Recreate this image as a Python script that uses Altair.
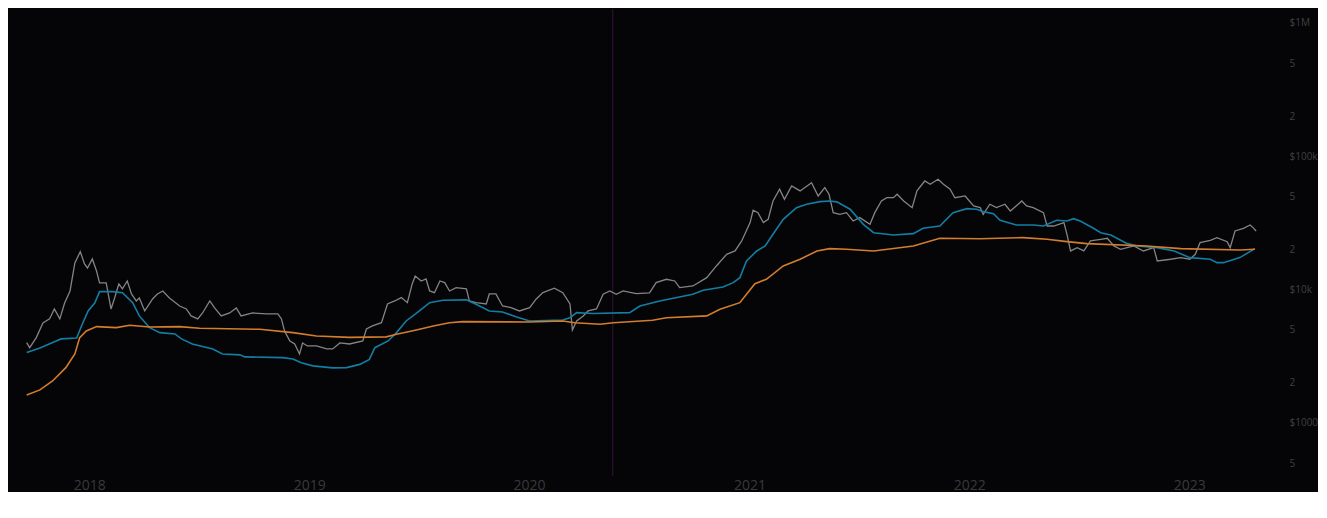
import altair as alt
import pandas as pd

# ---- data (log-scale USD) ----
price_dates = [
    "2017-09-19", "2017-09-24", "2017-10-05", "2017-10-16", "2017-10-27", "2017-11-04", "2017-11-13",
    "2017-11-21", "2017-11-30", "2017-12-08", "2017-12-17", "2017-12-24", "2017-12-29", "2018-01-06",
    "2018-01-13", "2018-01-18", "2018-01-29", "2018-02-06", "2018-02-12", "2018-02-19", "2018-02-25",
    "2018-03-05", "2018-03-12", "2018-03-20", "2018-03-25", "2018-04-03", "2018-04-16", "2018-04-24",
    "2018-05-03", "2018-05-14", "2018-05-31", "2018-06-11", "2018-06-19", "2018-06-30", "2018-07-08",
    "2018-07-20", "2018-07-28", "2018-08-08", "2018-08-22", "2018-09-02", "2018-09-10", "2018-09-29",
    "2018-10-22", "2018-11-10", "2018-11-16", "2018-11-21", "2018-11-30", "2018-12-08", "2018-12-16",
    "2018-12-21", "2018-12-29", "2019-01-13", "2019-01-30", "2019-02-09", "2019-02-21", "2019-03-09",
    "2019-03-31", "2019-04-06", "2019-04-16", "2019-05-01", "2019-05-11", "2019-05-23", "2019-06-03",
    "2019-06-13", "2019-06-21", "2019-06-26", "2019-07-06", "2019-07-14", "2019-07-20", "2019-07-28",
    "2019-08-06", "2019-08-14", "2019-08-22", "2019-09-02", "2019-09-19", "2019-09-24", "2019-10-05",
    "2019-10-22", "2019-10-27", "2019-11-07", "2019-11-18", "2019-12-02", "2019-12-16", "2020-01-02",
    "2020-01-13", "2020-01-24", "2020-02-12", "2020-02-26", "2020-03-09", "2020-03-13", "2020-03-20",
    "2020-03-31", "2020-04-08", "2020-04-22", "2020-05-03", "2020-05-14", "2020-05-25", "2020-06-05",
    "2020-06-27", "2020-07-19", "2020-07-30", "2020-08-16", "2020-08-30", "2020-09-07", "2020-09-29",
    "2020-10-22", "2020-11-07", "2020-11-24", "2020-12-08", "2020-12-19", "2021-01-02", "2021-01-07",
    "2021-01-15", "2021-01-24", "2021-02-01", "2021-02-09", "2021-02-20", "2021-02-28", "2021-03-12",
    "2021-03-26", "2021-04-14", "2021-04-25", "2021-05-06", "2021-05-13", "2021-05-20", "2021-05-31",
    "2021-06-11", "2021-06-22", "2021-07-03", "2021-07-20", "2021-07-28", "2021-08-08", "2021-08-17",
    "2021-08-28", "2021-09-03", "2021-09-14", "2021-09-28", "2021-10-06", "2021-10-19", "2021-10-28",
    "2021-11-10", "2021-11-19", "2021-11-30", "2021-12-08", "2021-12-25", "2022-01-08", "2022-01-19",
    "2022-01-24", "2022-02-04", "2022-02-15", "2022-03-01", "2022-03-10", "2022-03-29", "2022-04-06",
    "2022-04-17", "2022-05-04", "2022-05-10", "2022-05-21", "2022-06-07", "2022-06-12", "2022-06-18",
    "2022-06-29", "2022-07-10", "2022-07-21", "2022-08-07", "2022-08-18", "2022-08-29", "2022-09-09",
    "2022-09-20", "2022-10-01", "2022-10-17", "2022-11-03", "2022-11-09", "2022-12-01", "2022-12-18",
    "2023-01-02", "2023-01-11", "2023-01-19", "2023-02-05", "2023-02-16", "2023-03-05", "2023-03-10",
    "2023-03-18", "2023-04-01", "2023-04-12", "2023-04-17", "2023-04-22",
]
price_values = [
    4000, 3670, 4365, 5620, 6030, 7160, 6030,
    7940, 9770, 15850, 19270, 15580, 14540, 16980,
    13800, 11220, 11220, 7160, 8660, 11030, 10120,
    11610, 9280, 8220, 8660, 6920, 8510, 9280,
    9770, 8660, 7540, 7160, 6350, 6030, 6680,
    8220, 7290, 6350, 6680, 7290, 6350, 6680,
    6570, 6570, 6030, 4900, 4120, 3910, 3290,
    3980, 3780, 3780, 3590, 3590, 3980, 3910,
    4120, 5070, 5340, 5650, 7810, 8220, 8710,
    7980, 11030, 12660, 11610, 12020, 9770, 9490,
    11610, 11280, 9770, 10350, 10120, 8220, 7980,
    7810, 9280, 9280, 7540, 7330, 6920, 7330,
    8510, 9490, 10240, 9490, 7810, 4980, 5820,
    6350, 6920, 7160, 9230, 9770, 9230, 9770,
    9330, 9440, 11280, 11960, 11610, 10350, 10650,
    12300, 15050, 18410, 19500, 23170, 31800, 39400,
    37800, 31800, 33700, 46200, 56600, 47600, 59900,
    55000, 63400, 50400, 58200, 51900, 37800, 36700,
    37800, 32700, 34700, 30900, 37800, 46200, 48900,
    48900, 51900, 46200, 41200, 55000, 65300, 61700,
    67200, 61700, 56600, 48900, 50400, 42400, 41200,
    36700, 43700, 41200, 43700, 38900, 46200, 42400,
    41200, 37800, 30000, 30000, 31800, 26000, 19500,
    20650, 19500, 23170, 23860, 24280, 21260, 20080,
    20650, 21260, 19500, 20650, 16410, 16900, 17380,
    16900, 18410, 22500, 23450, 24540, 22900, 20650,
    27540, 28840, 30550, 29170, 27540,
]

ma_dates = [
    "2017-09-19", "2017-10-11", "2017-11-07", "2017-11-15", "2017-12-11", "2017-12-19", "2017-12-30",
    "2018-01-10", "2018-01-18", "2018-02-09", "2018-02-25", "2018-03-14", "2018-03-25", "2018-04-11",
    "2018-04-28", "2018-05-23", "2018-06-03", "2018-06-21", "2018-07-25", "2018-08-10", "2018-09-08",
    "2018-09-16", "2018-11-18", "2018-12-05", "2018-12-19", "2019-01-07", "2019-02-09", "2019-03-04",
    "2019-03-26", "2019-04-11", "2019-04-20", "2019-05-12", "2019-05-26", "2019-06-11", "2019-07-03",
    "2019-07-20", "2019-08-11", "2019-09-19", "2019-10-05", "2019-10-27", "2019-11-18", "2019-12-10",
    "2020-01-02", "2020-02-26", "2020-03-09", "2020-03-20", "2020-04-16", "2020-06-16", "2020-07-03",
    "2020-08-05", "2020-09-29", "2020-10-16", "2020-11-18", "2020-12-05", "2020-12-16", "2020-12-27",
    "2021-01-13", "2021-01-27", "2021-02-09", "2021-02-26", "2021-03-20", "2021-04-06", "2021-04-28",
    "2021-05-14", "2021-05-26", "2021-06-17", "2021-07-09", "2021-07-26", "2021-08-28", "2021-09-30",
    "2021-10-16", "2021-11-13", "2021-12-05", "2021-12-28", "2022-01-13", "2022-01-24", "2022-02-10",
    "2022-02-21", "2022-03-20", "2022-04-17", "2022-05-04", "2022-05-26", "2022-06-12", "2022-06-23",
    "2022-07-04", "2022-07-26", "2022-08-07", "2022-08-24", "2022-09-20", "2022-10-07", "2022-11-09",
    "2022-12-07", "2023-01-02", "2023-02-05", "2023-02-16", "2023-02-27", "2023-03-26", "2023-04-20",
]
ma_values = [
    3370, 3650, 4120, 4270, 4340, 5340, 6920,
    7940, 9660, 9660, 9490, 7980, 6350, 5190,
    4760, 4650, 4270, 3910, 3590, 3290, 3240,
    3130, 3090, 3020, 2830, 2680, 2590, 2600,
    2750, 3000, 3670, 4120, 4760, 5820, 6920,
    7980, 8320, 8380, 7760, 6920, 6800, 6270,
    5820, 5920, 6160, 6720, 6620, 6720, 7540,
    8220, 9230, 9890, 10470, 11280, 12300, 16410,
    19500, 21260, 26000, 33700, 41200, 43700, 45700,
    46200, 45500, 40100, 30900, 26740, 25700, 26300,
    28840, 30000, 37800, 40500, 40100, 38450, 37150,
    33100, 30550, 30550, 30000, 33100, 32700, 34050,
    32700, 28840, 26740, 25700, 22130, 21260, 20650,
    19500, 17380, 16900, 15930, 15930, 17380, 20290,
]

long_dates = [
    "2017-09-19", "2017-10-11", "2017-11-01", "2017-11-23", "2017-12-08", "2017-12-16", "2017-12-27",
    "2018-01-13", "2018-02-15", "2018-03-09", "2018-04-11", "2018-05-31", "2018-07-03", "2018-10-11",
    "2018-12-05", "2019-01-13", "2019-03-09", "2019-05-09", "2019-05-26", "2019-06-28", "2019-07-26",
    "2019-08-22", "2019-09-13", "2020-01-02", "2020-02-26", "2020-03-17", "2020-04-28", "2020-05-20",
    "2020-07-24", "2020-08-16", "2020-10-22", "2020-11-13", "2020-12-16", "2020-12-27", "2021-01-10",
    "2021-01-29", "2021-02-26", "2021-03-26", "2021-04-23", "2021-05-14", "2021-06-11", "2021-07-26",
    "2021-09-30", "2021-11-13", "2022-01-19", "2022-03-31", "2022-05-10", "2022-06-12", "2022-07-15",
    "2022-10-22", "2022-12-18", "2023-03-26", "2023-04-20",
]
long_values = [
    1620, 1770, 2065, 2600, 3290, 4365, 4900,
    5280, 5190, 5400, 5250, 5280, 5130, 5040,
    4760, 4490, 4380, 4420, 4620, 4980, 5340,
    5650, 5750, 5720, 5820, 5650, 5500, 5650,
    5890, 6160, 6350, 7120, 7980, 9230, 11090,
    11960, 15050, 16900, 19500, 20290, 20080, 19500,
    21260, 24280, 24100, 24540, 23860, 22900, 22130,
    21260, 20290, 19840, 20080,
]

marker_date = ["2020-05-19"]

x_domain = ["2017-08-19", "2023-06-09"]
y_domain = [400, 1273000]
year_ticks = [2018, 2019, 2020, 2021, 2022, 2023]
y_tick_values = [500, 1000, 2000, 5000, 10000, 20000, 50000, 100000, 200000, 500000, 1000000]
y_tick_labels = ["5", "$1000", "2", "5", "$10k", "2", "5", "$100k", "2", "5", "$1M"]

# ---- build ----
def to_dt(s):
    t = pd.Timestamp(s)
    return alt.DateTime(year=t.year, month=t.month, date=t.day, utc=True)

label_expr = "''"
for v, lab in zip(y_tick_values, y_tick_labels):
    label_expr = f"datum.value == {v} ? '{lab}' : ({label_expr})"

x_scale = alt.Scale(type="utc", domain=[to_dt(d) for d in x_domain], nice=False)
y_scale = alt.Scale(type="log", domain=y_domain, nice=False)

x_axis = alt.Axis(
    values=[alt.DateTime(year=y, month=1, date=1, utc=True) for y in year_ticks],
    labelExpr="utcFormat(datum.value, '%Y')",
    title=None, domain=False, ticks=False, grid=False,
    labelColor="#393939", labelFontSize=14, labelFont="Open Sans",
    labelPadding=2, labelBaseline="top",
)
y_axis = alt.Axis(
    orient="right", values=y_tick_values, labelExpr=label_expr,
    title=None, domain=False, ticks=False, grid=False,
    labelColor="#404040", labelFontSize=10, labelFont="Open Sans",
    labelPadding=4, labelAlign="left", labelBaseline="middle",
)

price_df = pd.DataFrame({"date": price_dates, "value": price_values})
ma_df = pd.DataFrame({"date": ma_dates, "value": ma_values})
long_df = pd.DataFrame({"date": long_dates, "value": long_values})
marker_df = pd.DataFrame({"date": marker_date})

def line_layer(df, color, width):
    return alt.Chart(df).mark_line(color=color, strokeWidth=width, clip=True).encode(
        x=alt.X("date:T", scale=x_scale, axis=x_axis),
        y=alt.Y("value:Q", scale=y_scale, axis=y_axis),
    )

rule = alt.Chart(marker_df).mark_rule(color="#35123c", strokeWidth=1).encode(
    x=alt.X("date:T", scale=x_scale, axis=x_axis)
)

chart = alt.layer(
    rule,
    line_layer(price_df, "#848484", 1.3),
    line_layer(ma_df, "#137ea3", 1.6),
    line_layer(long_df, "#d47d2c", 1.6),
).properties(
    width=1277, height=467, padding=0, background="#050508"
).configure_view(stroke=None)

chart.save("out.html", embed_options={"renderer": "svg", "actions": False})
